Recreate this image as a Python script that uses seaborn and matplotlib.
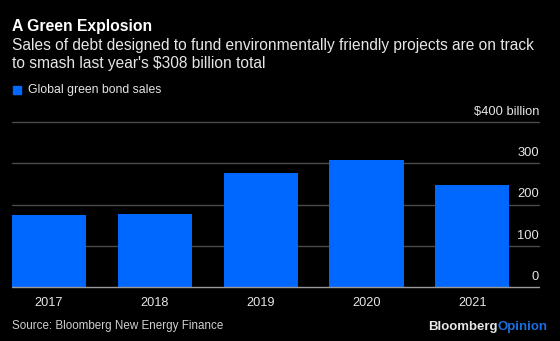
import matplotlib
matplotlib.use("Agg")
import matplotlib.pyplot as plt
import seaborn as sns
import pandas as pd

years = ["2017", "2018", "2019", "2020", "2021"]
sales = [174, 177, 276, 308, 247]
ytick_values = [0, 100, 200, 300, 400]
ytick_labels = ["0", "100", "200", "300", "$400 billion"]

title = "A Green Explosion"
subtitle = ("Sales of debt designed to fund environmentally friendly projects are on track\n"
            "to smash last year's $308 billion total")
legend_label = "Global green bond sales"
source = "Source: Bloomberg New Energy Finance"

BG = "#000000"
BLUE = "#0068ff"
FONT = ["Liberation Sans", "DejaVu Sans"]

sns.set_theme(style="dark")
plt.rcParams["font.family"] = FONT

W, H = 560, 341
fig = plt.figure(figsize=(W / 100, H / 100), dpi=100, facecolor=BG)

# axes in pixel coordinates
left, right, bottom, top = 12, 539, 287, 122
ax = fig.add_axes([left / W, (H - bottom) / H, (right - left) / W, (bottom - top) / H])
ax.set_facecolor(BG)

df = pd.DataFrame({"year": years, "sales": sales})
sns.barplot(data=df, x="year", y="sales", color=BLUE, saturation=1, width=0.70,
            ax=ax, zorder=3, edgecolor="none")

ax.set_xlim(-0.35, 4.63)
ax.set_ylim(0, 400)
for s in ax.spines.values():
    s.set_visible(False)
ax.set_xlabel("")
ax.set_ylabel("")

# gridlines
for v in ytick_values:
    col = "#9a9a9a" if v == 0 else "#4a4a4a"
    ax.axhline(v, color=col, lw=1.0, zorder=1 if v else 4, clip_on=False)

ax.set_yticks([])
ax.tick_params(axis="x", length=0, pad=7, colors="white", labelsize=9.2)
for lab in ax.get_xticklabels():
    lab.set_color("#e6e6e6")

# y labels above gridlines, right aligned
trans = ax.get_yaxis_transform()
for v, lab in zip(ytick_values, ytick_labels):
    ax.text(1.0, v + 10, lab, transform=trans, ha="right", va="bottom",
            color="#e6e6e6", fontsize=9.3, clip_on=False)

# header texts
fig.text(12 / W, 1 - 27 / H, title, color="white", fontsize=11.3, fontweight="bold",
         ha="left", va="center")
fig.text(12 / W, 1 - 54.5 / H, subtitle, color="#e6e6e6", fontsize=11.2,
         ha="left", va="center", linespacing=1.2)

# legend
fig.patches.append(plt.Rectangle((13 / W, 1 - 93.5 / H), 8 / W, 8 / H,
                                 transform=fig.transFigure, color=BLUE, figure=fig))
fig.text(28 / W, 1 - 89.5 / H, legend_label, color="#e6e6e6", fontsize=8.8,
         ha="left", va="center")

# footer
fig.text(12 / W, 1 - 326 / H, source, color="#cfcfcf", fontsize=8.4,
         ha="left", va="center")
t1 = fig.text(428 / W, 1 - 327 / H, "Bloomberg", color="#e6e6e6", fontsize=9.5,
              fontweight="bold", ha="left", va="center")
fig.canvas.draw()
bb = t1.get_window_extent()
fig.text(bb.x1 / W, 1 - 327 / H, "Opinion", color="#1a6fe0", fontsize=9.5,
         fontweight="bold", ha="left", va="center")

fig.savefig("out.png", dpi=100, facecolor=BG)
